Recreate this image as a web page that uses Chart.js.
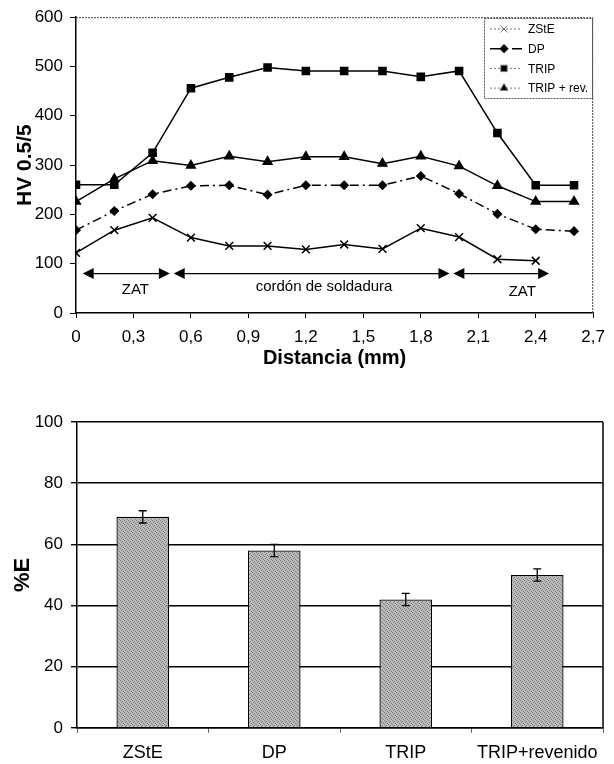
<!DOCTYPE html>
<html>
<head>
<meta charset="utf-8">
<script src="https://cdn.jsdelivr.net/npm/chart.js@4.4.1/dist/chart.umd.min.js"></script>
<style>
  html, body { margin: 0; padding: 0; background: #fff; }
  #wrap { position: relative; width: 614px; height: 764px; }
  canvas { position: absolute; left: 0; }
  #dureza { top: 0; }
  #alargamiento { top: 380px; }
</style>
</head>
<body>
<div id="wrap">
  <canvas id="dureza" width="614" height="380"></canvas>
  <canvas id="alargamiento" width="614" height="384"></canvas>
</div>
<script>
// perfil de dureza
const distancias = [0, 0.2, 0.4, 0.6, 0.8, 1.0, 1.2, 1.4, 1.6, 1.8, 2.0, 2.2, 2.4, 2.6]
const zste = [122, 168, 193, 153, 136, 136, 129, 139, 130, 172, 154, 109, 106]
const dp = [168, 207, 241, 258, 259, 240, 259, 259, 259, 278, 242, 201, 170, 166]
const trip = [260, 260, 325, 456, 478, 498, 491, 491, 491, 479, 491, 365, 259, 259]
const tripRev = [226, 272, 309, 299, 318, 307, 317, 317, 303, 318, 298, 258, 226, 226]

// zonas marcadas con flechas
const zonaInicio = [0.035, 0.51, 1.97]
const zonaFin = [0.49, 1.95, 2.47]
const zonaNivel = 80
const zonaTexto = ['ZAT', 'cordón de soldadura', 'ZAT']
const zonaTextoX = [0.31, 1.295, 2.33]
const zonaTextoY = [46, 54, 43]

// alargamiento
const materiales = ['ZStE', 'DP', 'TRIP', 'TRIP+revenido']
const alargamiento = [69, 58, 42, 50]
const errorAlarg = [2, 2, 2, 2]

const FONT = "'Liberation Sans', Arial, sans-serif"
Chart.defaults.font.family = FONT
Chart.defaults.color = '#000'

function puntos(vals) {
  return vals.map((v, i) => ({ x: distancias[i], y: v }))
}

function coma(v) {
  if (Math.abs(v) < 1e-9) return '0'
  return (Math.round(v * 10) / 10).toFixed(1).replace('.', ',')
}

const series = [
  { label: 'ZStE', data: puntos(zste), pointStyle: 'crossRot', pointRadius: 5.5, borderDash: [], legendDash: [2, 2] },
  { label: 'DP', data: puntos(dp), pointStyle: 'rectRot', pointRadius: 4, borderDash: [9, 4, 2, 4], legendDash: [10, 5, 2, 5] },
  { label: 'TRIP', data: puntos(trip), pointStyle: 'rect', pointRadius: 5, borderDash: [], legendDash: [2, 2] },
  { label: 'TRIP + rev.', data: puntos(tripRev), pointStyle: 'triangle', pointRadius: 5, borderDash: [], legendDash: [2, 2] }
]

function flecha(ctx, x, y, dir) {
  ctx.beginPath()
  ctx.moveTo(x, y)
  ctx.lineTo(x - dir * 11, y - 5.5)
  ctx.lineTo(x - dir * 11, y + 5.5)
  ctx.closePath()
  ctx.fill()
}

const decoradoDureza = {
  id: 'decoradoDureza',
  afterDraw(chart) {
    const { ctx, chartArea: a, scales } = chart
    ctx.save()
    // marco
    ctx.strokeStyle = '#444'
    ctx.lineWidth = 1
    ctx.setLineDash([2, 1])
    ctx.beginPath()
    ctx.moveTo(a.left, a.top + 0.5)
    ctx.lineTo(a.right - 0.5, a.top + 0.5)
    ctx.lineTo(a.right - 0.5, a.bottom)
    ctx.stroke()
    ctx.setLineDash([])

    // flechas de zonas
    ctx.strokeStyle = '#000'
    ctx.fillStyle = '#000'
    ctx.lineWidth = 1.3
    const yf = scales.y.getPixelForValue(zonaNivel)
    for (let i = 0; i < zonaInicio.length; i++) {
      const x0 = scales.x.getPixelForValue(zonaInicio[i])
      const x1 = scales.x.getPixelForValue(zonaFin[i])
      ctx.beginPath()
      ctx.moveTo(x0 + 4, yf)
      ctx.lineTo(x1 - 4, yf)
      ctx.stroke()
      flecha(ctx, x0, yf, -1)
      flecha(ctx, x1, yf, 1)
    }
    ctx.font = '15px ' + FONT
    ctx.textAlign = 'center'
    ctx.textBaseline = 'middle'
    for (let i = 0; i < zonaTexto.length; i++) {
      ctx.fillText(zonaTexto[i], scales.x.getPixelForValue(zonaTextoX[i]), scales.y.getPixelForValue(zonaTextoY[i]))
    }

    // leyenda
    const lx = 484, ly = 18, lw = 108, lh = 80
    ctx.fillStyle = '#fff'
    ctx.fillRect(lx, ly, lw, lh)
    ctx.strokeStyle = '#555'
    ctx.lineWidth = 1
    ctx.setLineDash([2, 1])
    ctx.strokeRect(lx + 0.5, ly + 0.5, lw, lh)
    ctx.font = '12px ' + FONT
    ctx.textAlign = 'left'
    ctx.fillStyle = '#000'
    chart.data.datasets.forEach((ds, i) => {
      const y = ly + 11 + i * 19.7
      ctx.strokeStyle = i === 1 ? '#000' : '#777'
      ctx.lineWidth = i === 1 ? 1.6 : 1
      ctx.setLineDash(ds.legendDash)
      ctx.beginPath()
      ctx.moveTo(lx + 6, y)
      ctx.lineTo(lx + 38, y)
      ctx.stroke()
      ctx.setLineDash([])
      Chart.helpers.drawPoint(ctx, {
        pointStyle: ds.pointStyle,
        radius: ds.pointRadius - 0.5,
        borderWidth: 1.5
      }, lx + 20, y)
      ctx.fillStyle = '#000'
      ctx.fillText(ds.label, lx + 44, y + 1)
    })
    ctx.restore()
  }
}

new Chart(document.getElementById('dureza'), {
  type: 'line',
  data: {
    datasets: series.map(s => ({
      label: s.label,
      data: s.data,
      borderColor: '#000',
      backgroundColor: '#000',
      borderWidth: 1.5,
      borderDash: s.borderDash,
      legendDash: s.legendDash,
      pointStyle: s.pointStyle,
      pointRadius: s.pointRadius,
      pointBorderWidth: 1.5,
      pointBorderColor: '#000',
      pointBackgroundColor: '#000',
      tension: 0,
      fill: false
    }))
  },
  options: {
    responsive: false,
    devicePixelRatio: 1,
    animation: false,
    events: [],
    layout: { padding: { left: 0, right: 19, top: 15, bottom: 0 } },
    plugins: { legend: { display: false }, tooltip: { enabled: false } },
    scales: {
      x: {
        type: 'linear',
        min: 0,
        max: 2.7,
        afterFit: s => { s.height = 67 },
        ticks: { stepSize: 0.3, padding: 9, font: { size: 17 }, callback: v => coma(v) },
        grid: { display: true, drawOnChartArea: false, color: '#000', tickLength: 5, lineWidth: 1 },
        border: { display: true, color: '#000', width: 1.5 },
        title: { display: true, text: 'Distancia (mm)', font: { size: 20, weight: 'bold' }, padding: { top: 0, bottom: 10 } }
      },
      y: {
        min: 0,
        max: 600,
        afterFit: s => { s.width = 76 },
        ticks: { stepSize: 100, padding: 7, font: { size: 17 } },
        grid: { display: true, drawOnChartArea: false, color: '#000', tickLength: 6, lineWidth: 1 },
        border: { display: true, color: '#000', width: 1.5 },
        title: { display: true, text: 'HV 0.5/5', font: { size: 21, weight: 'bold' }, padding: { top: 13, bottom: 0 } }
      }
    }
  },
  plugins: [decoradoDureza]
})

// relleno punteado de las barras
function tramaGris() {
  const c = document.createElement('canvas')
  c.width = 4
  c.height = 4
  const g = c.getContext('2d')
  g.fillStyle = '#bcbcbc'
  g.fillRect(0, 0, 4, 4)
  g.fillStyle = '#7c7c7c'
  g.fillRect(0, 0, 1, 1)
  g.fillRect(2, 1, 1, 1)
  g.fillRect(1, 2, 1, 1)
  g.fillRect(3, 3, 1, 1)
  return g.createPattern(c, 'repeat')
}

const decoradoAlarg = {
  id: 'decoradoAlarg',
  afterDatasetsDraw(chart) {
    const { ctx, chartArea: a, scales } = chart
    const meta = chart.getDatasetMeta(0)
    ctx.save()
    ctx.strokeStyle = '#000'
    ctx.lineWidth = 1.3
    meta.data.forEach((bar, i) => {
      const yHi = scales.y.getPixelForValue(alargamiento[i] + errorAlarg[i])
      const yLo = scales.y.getPixelForValue(alargamiento[i] - errorAlarg[i])
      ctx.beginPath()
      ctx.moveTo(bar.x, yHi)
      ctx.lineTo(bar.x, yLo)
      ctx.moveTo(bar.x - 4, yHi)
      ctx.lineTo(bar.x + 4, yHi)
      ctx.moveTo(bar.x - 4, yLo)
      ctx.lineTo(bar.x + 4, yLo)
      ctx.stroke()
    })
    // borde derecho
    ctx.lineWidth = 1.5
    ctx.beginPath()
    ctx.moveTo(a.right, a.top)
    ctx.lineTo(a.right, a.bottom)
    ctx.stroke()
    ctx.restore()
  }
}

const cvAlarg = document.getElementById('alargamiento')
new Chart(cvAlarg, {
  type: 'bar',
  data: {
    labels: materiales,
    datasets: [{
      data: alargamiento,
      backgroundColor: tramaGris(),
      borderColor: '#000',
      borderWidth: 1.3,
      categoryPercentage: 1,
      barPercentage: 0.4
    }]
  },
  options: {
    responsive: false,
    devicePixelRatio: 1,
    animation: false,
    events: [],
    layout: { padding: { left: 0, right: 11, top: 42, bottom: 0 } },
    plugins: { legend: { display: false }, tooltip: { enabled: false } },
    scales: {
      x: {
        afterFit: s => { s.height = 36 },
        ticks: { padding: 9, font: { size: 18 } },
        grid: { display: true, offset: true, drawOnChartArea: false, color: '#666', tickLength: 5, lineWidth: 1 },
        border: { display: true, color: '#000', width: 1.5 }
      },
      y: {
        min: 0,
        max: 100,
        afterFit: s => { s.width = 77 },
        ticks: { stepSize: 20, padding: 8, font: { size: 17 } },
        grid: { color: '#000', lineWidth: 1.4, tickLength: 6 },
        border: { display: true, color: '#000', width: 1.5 },
        title: { display: true, text: '%E', font: { size: 22, weight: 'bold' }, padding: { top: 10, bottom: 0 } }
      }
    }
  },
  plugins: [decoradoAlarg]
})
</script>
</body>
</html>
